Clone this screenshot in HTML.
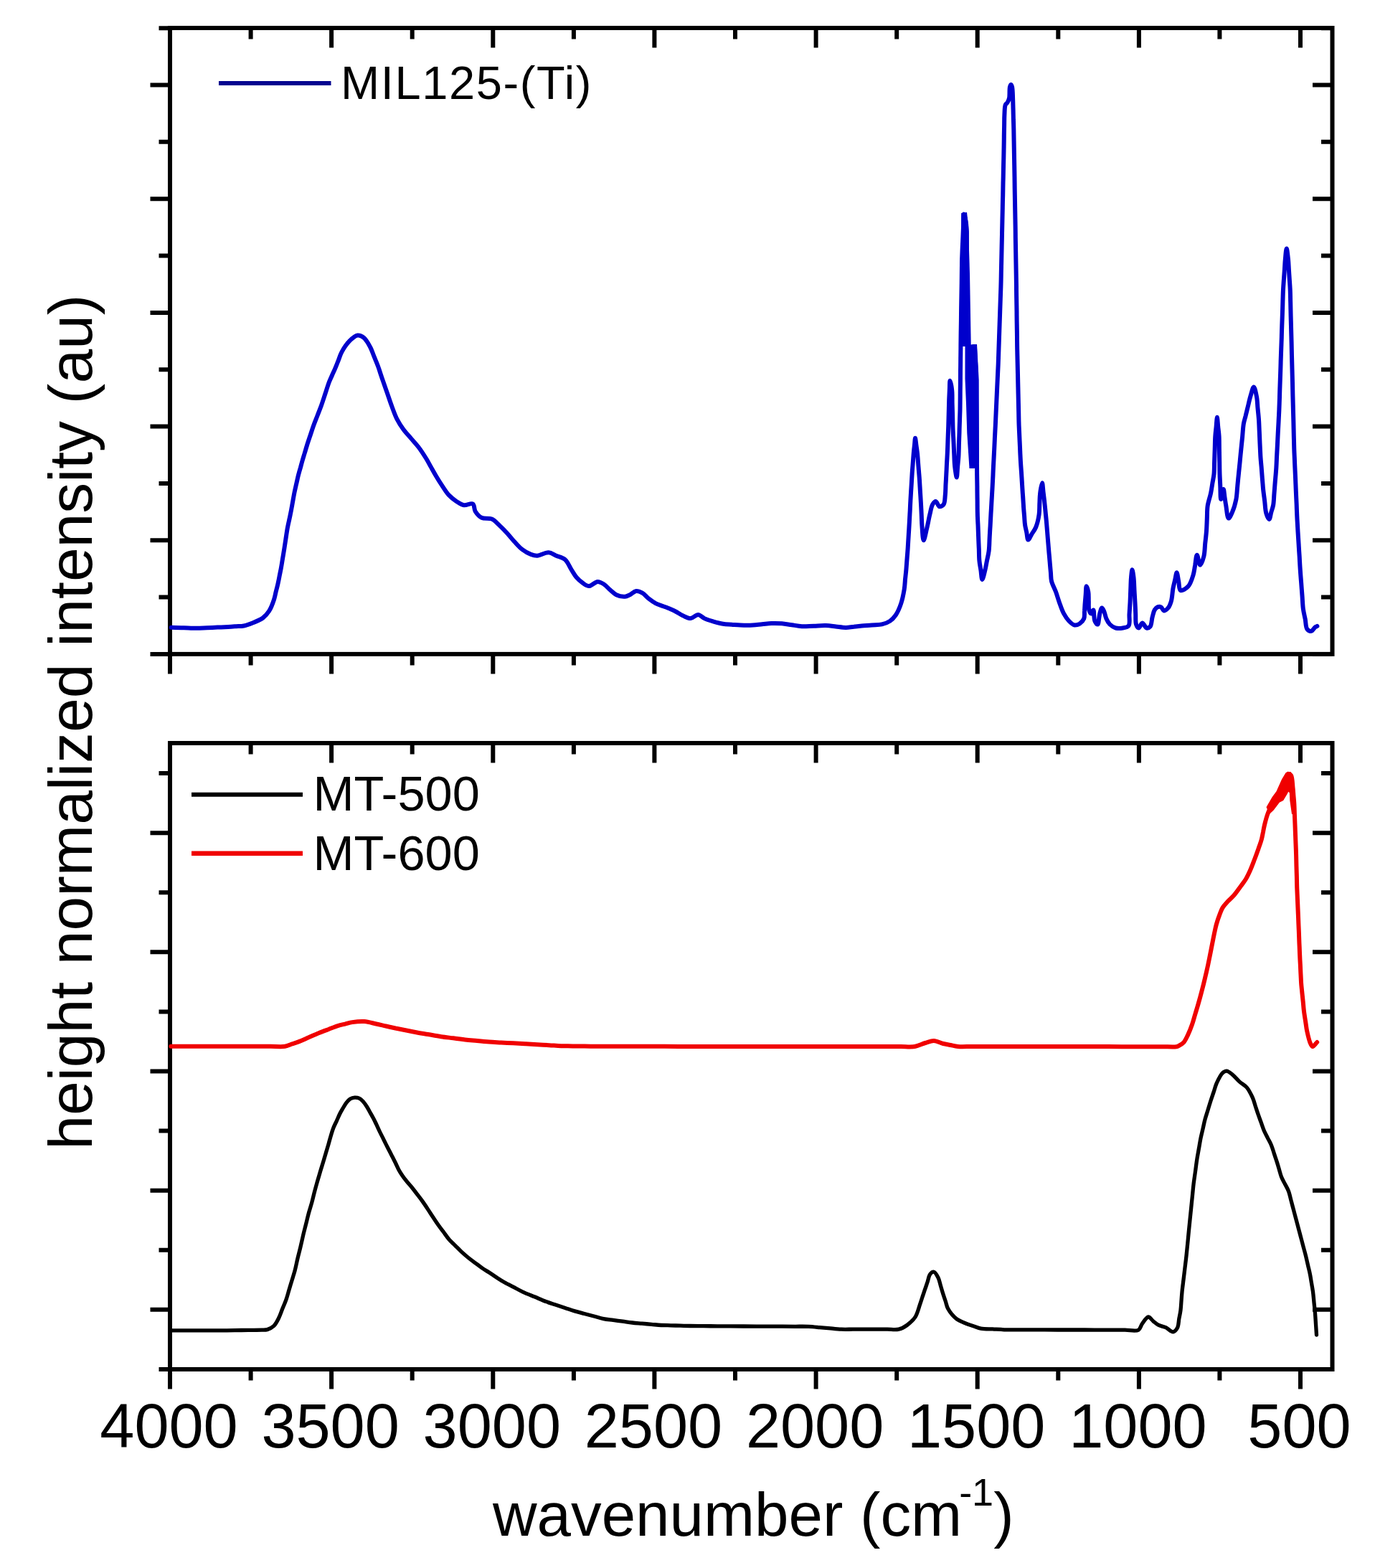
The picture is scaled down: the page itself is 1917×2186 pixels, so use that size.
<!DOCTYPE html>
<html><head><meta charset="utf-8"><title>FTIR spectra</title>
<style>html,body{margin:0;padding:0;background:#fff;}svg{display:block;}</style>
</head><body>
<svg width="1917" height="2186" viewBox="0 0 1917 2186"><rect x="237.0" y="39.0" width="1620.5" height="872.9" fill="none" stroke="#000" stroke-width="6"/>
<path d="M237.0,911.9v27.5M237.0,39.0v27.5M349.6,911.9v15.5M349.6,39.0v15.5M462.1,911.9v27.5M462.1,39.0v27.5M574.7,911.9v15.5M574.7,39.0v15.5M687.3,911.9v27.5M687.3,39.0v27.5M799.9,911.9v15.5M799.9,39.0v15.5M912.4,911.9v27.5M912.4,39.0v27.5M1025.0,911.9v15.5M1025.0,39.0v15.5M1137.6,911.9v27.5M1137.6,39.0v27.5M1250.2,911.9v15.5M1250.2,39.0v15.5M1362.7,911.9v27.5M1362.7,39.0v27.5M1475.3,911.9v15.5M1475.3,39.0v15.5M1587.9,911.9v27.5M1587.9,39.0v27.5M1700.4,911.9v15.5M1700.4,39.0v15.5M1813.0,911.9v27.5M1813.0,39.0v27.5M237.0,911.9h-27.5M1857.5,911.9h-27.5M237.0,832.6h-15.5M1857.5,832.6h-15.5M237.0,753.2h-27.5M1857.5,753.2h-27.5M237.0,673.9h-15.5M1857.5,673.9h-15.5M237.0,594.5h-27.5M1857.5,594.5h-27.5M237.0,515.2h-15.5M1857.5,515.2h-15.5M237.0,435.9h-27.5M1857.5,435.9h-27.5M237.0,356.5h-15.5M1857.5,356.5h-15.5M237.0,277.2h-27.5M1857.5,277.2h-27.5M237.0,197.8h-15.5M1857.5,197.8h-15.5M237.0,118.5h-27.5M1857.5,118.5h-27.5M237.0,39.2h-15.5M1857.5,39.2h-15.5" stroke="#000" stroke-width="6" fill="none"/>
<rect x="237.0" y="1036.0" width="1620.5" height="873.0" fill="none" stroke="#000" stroke-width="6"/>
<path d="M237.0,1909.0v27.5M237.0,1036.0v27.5M349.6,1909.0v15.5M349.6,1036.0v15.5M462.1,1909.0v27.5M462.1,1036.0v27.5M574.7,1909.0v15.5M574.7,1036.0v15.5M687.3,1909.0v27.5M687.3,1036.0v27.5M799.9,1909.0v15.5M799.9,1036.0v15.5M912.4,1909.0v27.5M912.4,1036.0v27.5M1025.0,1909.0v15.5M1025.0,1036.0v15.5M1137.6,1909.0v27.5M1137.6,1036.0v27.5M1250.2,1909.0v15.5M1250.2,1036.0v15.5M1362.7,1909.0v27.5M1362.7,1036.0v27.5M1475.3,1909.0v15.5M1475.3,1036.0v15.5M1587.9,1909.0v27.5M1587.9,1036.0v27.5M1700.4,1909.0v15.5M1700.4,1036.0v15.5M1813.0,1909.0v27.5M1813.0,1036.0v27.5M237.0,1908.9h-15.5M1857.5,1908.9h-15.5M237.0,1825.8h-27.5M1857.5,1825.8h-27.5M237.0,1742.7h-15.5M1857.5,1742.7h-15.5M237.0,1659.7h-27.5M1857.5,1659.7h-27.5M237.0,1576.6h-15.5M1857.5,1576.6h-15.5M237.0,1493.5h-27.5M1857.5,1493.5h-27.5M237.0,1410.4h-15.5M1857.5,1410.4h-15.5M237.0,1327.3h-27.5M1857.5,1327.3h-27.5M237.0,1244.3h-15.5M1857.5,1244.3h-15.5M237.0,1161.2h-27.5M1857.5,1161.2h-27.5M237.0,1078.1h-15.5M1857.5,1078.1h-15.5" stroke="#000" stroke-width="6" fill="none"/>
<path d="M238.8,874.7C244.7,874.9 250.5,875.1 256.4,875.2C262.3,875.4 268.4,875.8 274.0,875.8C279.1,875.8 283.8,875.4 288.7,875.2C293.6,875.0 298.4,874.8 303.3,874.6C308.2,874.4 313.5,874.2 318.0,874.0C321.9,873.8 325.3,873.5 329.0,873.2C332.7,873.0 336.2,873.3 340.0,872.5C344.3,871.6 348.9,869.8 353.3,868.0C357.8,866.2 362.8,864.3 366.5,861.5C370.0,858.8 372.8,855.5 375.3,851.6C378.1,847.2 380.3,841.0 381.9,836.2C383.2,832.3 383.7,828.9 384.6,825.2C385.6,821.5 386.6,817.9 387.4,814.2C388.2,810.5 388.9,806.9 389.6,803.2C390.3,799.5 391.1,796.0 391.8,792.2C392.6,788.0 393.3,783.4 394.0,779.0C394.7,774.6 395.5,770.3 396.2,765.8C396.9,761.1 397.7,756.3 398.4,751.5C399.1,746.7 399.8,741.9 400.6,737.2C401.4,732.7 402.4,728.4 403.4,724.0C404.3,719.5 405.3,715.0 406.1,710.7C406.9,706.6 407.6,702.6 408.3,698.6C409.0,694.6 409.7,690.5 410.5,686.5C411.3,682.5 412.3,678.4 413.2,674.4C414.2,670.4 415.0,666.1 416.0,662.3C416.9,658.8 417.8,655.7 418.8,652.4C419.7,649.1 420.5,645.9 421.5,642.5C422.5,638.9 423.7,635.2 424.8,631.5C425.9,627.8 426.9,624.3 428.1,620.5C429.4,616.3 431.0,611.7 432.5,607.2C434.0,602.8 435.3,598.5 436.9,594.0C438.6,589.3 440.6,584.5 442.4,579.8C444.2,575.0 446.1,570.4 447.9,565.5C449.8,560.2 451.6,554.5 453.4,549.0C455.2,543.5 457.1,537.3 458.9,532.5C460.4,528.7 461.8,525.9 463.3,522.5C464.8,519.2 466.3,516.0 467.7,512.6C469.2,509.0 470.6,505.3 472.1,501.6C473.6,497.9 474.4,494.4 476.5,490.6C479.2,485.7 483.5,479.2 487.5,475.2C490.9,471.8 494.9,468.0 498.5,467.5C501.5,467.1 504.7,468.7 507.3,470.8C510.7,473.5 513.8,479.5 516.2,484.0C518.5,488.3 519.8,492.8 521.6,497.2C523.4,501.7 525.4,506.3 527.0,510.5C528.4,514.2 529.4,517.5 530.5,521.0C531.7,524.6 532.7,527.6 534.1,531.6C535.9,536.7 538.2,543.3 540.3,549.2C542.3,555.1 544.2,561.0 546.4,566.8C548.6,572.7 550.7,579.0 553.5,584.4C556.1,589.5 559.1,594.1 562.3,598.5C565.5,602.9 569.3,606.8 572.8,610.9C576.3,615.0 580.0,618.7 583.4,623.2C587.1,628.0 590.9,634.0 594.0,639.0C596.7,643.3 598.7,647.3 601.0,651.4C603.3,655.5 605.5,659.5 608.0,663.7C610.7,668.3 613.9,673.3 616.9,677.8C619.8,682.1 622.4,686.5 625.7,690.1C628.9,693.5 632.6,696.5 636.3,698.9C639.7,701.1 643.1,703.6 646.8,704.2C650.7,704.8 656.6,700.9 659.2,702.5C661.7,704.0 660.8,709.9 662.7,713.0C664.8,716.3 667.9,720.0 671.5,721.8C675.4,723.7 681.5,721.8 685.6,723.6C689.7,725.4 692.8,729.2 696.2,732.4C699.8,735.7 703.3,739.3 706.7,743.0C710.3,746.9 713.7,751.4 717.3,755.3C720.8,759.0 724.0,762.9 727.9,765.9C731.7,768.8 736.3,771.4 740.2,772.9C743.3,774.1 745.7,774.8 749.0,774.7C753.5,774.5 760.2,770.0 764.9,770.3C768.8,770.5 771.8,773.2 775.4,774.7C779.3,776.4 784.3,777.1 787.7,780.0C791.6,783.3 794.0,790.2 796.9,794.6C799.3,798.4 801.1,801.9 803.8,805.0C806.4,808.0 809.5,810.7 812.5,812.8C815.3,814.7 818.0,817.1 821.1,817.1C824.8,817.1 829.5,811.2 833.2,811.0C836.3,810.9 839.2,812.8 841.9,814.5C845.0,816.4 847.6,819.8 850.5,822.3C853.4,824.7 855.9,827.6 859.2,829.2C862.7,830.9 867.9,832.1 871.3,831.8C874.0,831.6 875.8,830.3 878.2,829.2C881.0,827.9 883.9,824.4 886.9,824.0C889.7,823.7 892.8,825.1 895.5,826.6C898.6,828.3 901.1,832.0 904.2,834.4C907.4,836.9 910.7,839.3 914.5,841.3C918.7,843.4 923.9,844.7 928.4,846.5C932.6,848.2 936.5,849.7 940.5,851.7C944.6,853.7 948.6,856.8 952.6,858.6C956.1,860.2 959.6,862.3 963.0,862.1C966.5,861.9 970.1,856.8 973.4,856.9C976.4,857.0 978.8,860.6 982.0,862.1C985.6,863.8 989.9,865.1 994.1,866.4C998.5,867.7 1003.5,869.1 1008.0,869.8C1012.1,870.5 1016.1,870.4 1020.1,870.7C1024.1,871.0 1027.8,871.4 1032.2,871.6C1037.4,871.8 1044.2,871.9 1049.5,871.6C1054.1,871.4 1058.1,870.7 1062.5,870.3C1066.8,869.9 1070.9,869.2 1075.4,869.0C1080.1,868.8 1085.2,868.9 1090.0,869.3C1094.7,869.7 1099.3,870.6 1104.0,871.2C1108.6,871.9 1113.0,872.9 1117.9,873.2C1123.2,873.5 1129.1,872.8 1134.7,872.7C1140.2,872.5 1146.1,871.9 1151.4,872.1C1156.3,872.3 1160.7,873.0 1165.3,873.5C1170.0,874.0 1174.9,874.9 1179.3,874.9C1183.2,874.9 1186.7,874.1 1190.4,873.8C1194.2,873.4 1197.7,873.0 1201.6,872.6C1206.0,872.2 1210.9,871.9 1215.5,871.5C1220.2,871.1 1225.2,871.4 1229.5,870.4C1233.5,869.5 1237.5,868.1 1240.7,865.9C1243.9,863.8 1246.4,861.0 1248.8,857.5C1251.7,853.2 1254.3,847.1 1256.2,841.4C1258.2,835.4 1259.6,828.3 1260.6,822.3C1261.5,817.1 1261.6,812.5 1262.0,807.6C1262.5,802.7 1263.1,797.8 1263.5,792.9C1263.9,788.0 1264.2,783.1 1264.6,778.2C1265.0,773.4 1265.4,768.8 1265.7,763.6C1266.1,757.8 1266.4,751.3 1266.8,745.2C1267.2,739.1 1267.6,732.6 1267.9,726.8C1268.2,721.6 1268.4,717.0 1268.7,712.1C1268.9,707.3 1269.1,702.7 1269.4,697.5C1269.7,691.7 1270.1,685.3 1270.5,679.1C1270.9,673.0 1271.2,666.6 1271.6,660.8C1271.9,655.6 1272.3,651.0 1272.7,646.1C1273.1,641.2 1273.4,635.9 1273.8,631.4C1274.1,627.7 1274.5,624.5 1274.9,621.1C1275.3,617.7 1275.6,610.8 1276.0,610.8C1276.4,610.8 1277.0,617.7 1277.5,621.1C1277.9,624.5 1278.5,627.5 1278.9,631.4C1279.5,636.6 1279.9,643.6 1280.4,649.8C1280.9,655.9 1281.5,662.0 1281.9,668.1C1282.3,674.2 1282.6,680.3 1283.0,686.5C1283.4,692.6 1283.8,699.0 1284.1,704.8C1284.4,710.0 1284.6,714.6 1284.8,719.5C1285.0,724.4 1285.1,729.0 1285.5,734.2C1286.0,740.2 1286.5,753.2 1287.7,753.3C1288.8,753.4 1290.9,741.9 1292.1,737.1C1293.0,733.3 1293.6,730.3 1294.3,726.9C1295.0,723.4 1295.6,720.2 1296.5,716.6C1297.5,712.4 1298.4,706.4 1300.2,703.3C1301.4,701.2 1303.1,698.8 1304.6,698.9C1306.4,699.1 1307.8,705.8 1309.8,706.3C1311.5,706.7 1314.3,705.2 1315.6,703.3C1317.5,700.6 1317.3,694.6 1317.8,690.1C1318.3,685.4 1318.3,680.3 1318.5,675.5C1318.8,670.6 1319.1,665.7 1319.3,660.8C1319.6,655.9 1319.8,651.0 1320.0,646.1C1320.3,641.2 1320.6,636.6 1320.8,631.4C1321.1,625.6 1321.3,619.2 1321.5,613.0C1321.7,606.9 1322.0,600.9 1322.2,594.7C1322.4,588.5 1322.5,582.2 1322.7,576.0C1322.9,569.7 1323.0,562.9 1323.2,557.2C1323.4,552.4 1323.6,548.4 1323.8,544.0C1324.1,539.6 1323.9,530.8 1324.5,530.8C1325.1,530.8 1326.7,539.3 1327.2,544.0C1327.8,549.4 1327.5,555.7 1327.6,561.6C1327.8,567.5 1327.9,573.3 1328.1,579.2C1328.2,585.1 1328.3,590.9 1328.5,596.8C1328.7,602.7 1329.1,608.5 1329.4,614.4C1329.7,620.3 1329.9,626.1 1330.2,632.0C1330.5,637.9 1330.5,643.9 1331.1,649.6C1331.7,655.1 1333.1,665.5 1333.8,665.5C1334.4,665.5 1334.7,655.8 1335.1,651.0C1335.5,646.1 1336.1,641.4 1336.4,636.4C1336.7,631.1 1336.8,625.4 1336.9,619.9C1337.1,614.4 1337.3,608.9 1337.5,603.4C1337.6,597.9 1337.8,592.4 1338.0,586.9C1338.1,581.4 1338.4,576.0 1338.5,570.4C1338.6,564.6 1338.6,558.7 1338.7,552.8C1338.7,546.9 1338.8,541.1 1338.9,535.2C1338.9,529.3 1339.0,523.5 1339.0,517.6C1339.1,511.7 1339.2,505.9 1339.2,500.0C1339.3,494.1 1339.4,488.3 1339.4,482.4C1339.5,476.5 1339.5,470.7 1339.6,464.8C1339.7,458.9 1339.8,453.1 1339.9,447.2C1340.0,441.3 1340.0,435.5 1340.1,429.6C1340.2,423.7 1340.3,417.9 1340.4,412.0C1340.5,406.1 1340.6,400.3 1340.7,394.4C1340.8,388.5 1340.8,382.7 1340.9,376.8C1341.0,370.9 1341.0,364.8 1341.2,359.2C1341.4,354.0 1341.6,349.1 1341.8,344.0C1342.1,339.0 1342.3,333.9 1342.5,328.9C1342.7,323.8 1342.9,318.7 1343.2,313.7C1343.4,308.6 1343.1,298.6 1343.8,298.5C1344.4,298.4 1346.4,306.9 1347.0,311.7C1347.8,317.3 1347.4,324.0 1347.5,330.2C1347.7,336.3 1347.9,342.5 1348.0,348.6C1348.2,354.8 1348.4,361.0 1348.6,367.1C1348.7,373.3 1349.0,379.5 1349.1,385.6C1349.2,391.5 1349.3,397.3 1349.4,403.2C1349.5,409.1 1349.6,414.9 1349.7,420.8C1349.8,426.7 1349.9,432.5 1350.0,438.4C1350.1,444.3 1350.2,450.1 1350.3,456.0C1350.4,461.9 1350.5,467.7 1350.6,473.6C1350.7,479.5 1350.8,485.3 1350.9,491.2C1351.0,497.1 1351.2,502.9 1351.3,508.8C1351.5,514.7 1351.6,520.5 1351.8,526.4C1351.9,532.3 1352.1,538.2 1352.2,544.0C1352.3,549.6 1352.5,555.2 1352.7,560.7C1352.8,566.3 1353.0,571.9 1353.1,577.5C1353.3,583.0 1353.4,588.6 1353.6,594.2C1353.7,599.8 1353.9,605.4 1354.0,610.9C1354.2,616.5 1354.3,622.1 1354.5,627.7C1354.6,633.2 1354.8,644.4 1354.9,644.4C1355.0,644.4 1355.1,633.2 1355.2,627.7C1355.4,622.1 1355.5,616.5 1355.6,610.9C1355.7,605.4 1355.8,599.8 1356.0,594.2C1356.1,588.6 1356.2,583.0 1356.3,577.5C1356.4,571.9 1356.5,566.3 1356.7,560.7C1356.8,555.2 1356.9,549.4 1357.0,544.0C1357.1,538.8 1357.3,533.9 1357.5,528.8C1357.6,523.8 1357.8,518.7 1357.9,513.6C1358.0,508.6 1358.2,503.5 1358.3,498.5C1358.5,493.4 1358.6,483.3 1358.8,483.3C1359.0,483.3 1359.4,494.7 1359.8,500.5C1360.1,506.2 1360.5,511.8 1360.7,517.6C1360.9,523.4 1360.8,529.3 1360.9,535.2C1360.9,541.1 1361.0,546.9 1361.0,552.8C1361.1,558.7 1361.1,564.5 1361.2,570.4C1361.3,576.3 1361.3,582.1 1361.4,588.0C1361.4,593.9 1361.5,599.7 1361.5,605.6C1361.6,611.5 1361.6,617.3 1361.7,623.2C1361.8,629.3 1361.8,635.5 1361.9,641.7C1362.0,647.8 1362.1,654.0 1362.1,660.2C1362.2,666.3 1362.3,672.5 1362.4,678.6C1362.4,684.8 1362.5,691.0 1362.6,697.1C1362.7,703.3 1362.6,709.6 1362.8,715.6C1362.9,721.3 1363.2,726.6 1363.5,732.1C1363.7,737.6 1363.9,743.1 1364.1,748.6C1364.3,754.1 1364.5,759.6 1364.8,765.1C1365.0,770.6 1364.9,776.4 1365.4,781.6C1365.8,786.3 1366.7,790.4 1367.4,794.8C1368.1,799.2 1368.4,807.9 1369.4,808.0C1370.4,808.1 1372.3,799.2 1373.4,794.8C1374.5,790.4 1375.1,786.0 1376.0,781.6C1376.9,777.2 1378.0,773.1 1378.6,768.4C1379.3,763.0 1379.3,756.7 1379.6,750.9C1379.9,745.1 1380.2,739.3 1380.6,733.4C1380.9,727.6 1381.2,721.8 1381.5,716.0C1381.9,710.1 1382.2,704.3 1382.5,698.5C1382.8,692.7 1383.2,686.8 1383.5,681.0C1383.8,675.1 1384.1,669.3 1384.4,663.4C1384.6,657.5 1384.9,651.7 1385.2,645.8C1385.5,639.9 1385.8,634.1 1386.1,628.2C1386.4,622.3 1386.7,616.5 1386.9,610.6C1387.2,604.7 1387.5,598.9 1387.8,593.0C1388.1,587.1 1388.3,581.3 1388.6,575.4C1388.9,569.5 1389.1,563.7 1389.4,557.8C1389.7,551.9 1389.9,546.1 1390.2,540.2C1390.5,534.3 1390.7,528.5 1391.0,522.6C1391.3,516.7 1391.6,510.9 1391.8,505.0C1392.0,499.1 1392.2,493.3 1392.4,487.4C1392.6,481.5 1392.8,475.6 1393.0,469.8C1393.2,463.9 1393.4,458.0 1393.6,452.1C1393.8,446.3 1394.0,440.4 1394.2,434.5C1394.4,428.7 1394.6,422.8 1394.8,416.9C1395.0,411.0 1395.2,405.2 1395.4,399.3C1395.6,393.3 1395.7,387.2 1395.8,381.1C1395.9,375.0 1396.1,368.9 1396.2,362.9C1396.3,356.8 1396.5,350.7 1396.6,344.6C1396.7,338.6 1396.9,332.5 1397.0,326.4C1397.1,320.4 1397.3,314.3 1397.4,308.2C1397.5,302.1 1397.7,296.0 1397.8,290.0C1397.9,284.1 1398.0,278.3 1398.2,272.5C1398.3,266.7 1398.4,260.8 1398.5,255.0C1398.7,249.2 1398.8,243.3 1398.9,237.5C1399.0,231.7 1399.2,225.6 1399.3,220.0C1399.4,214.8 1399.5,210.0 1399.6,205.0C1399.7,200.0 1399.8,195.0 1399.8,190.0C1399.9,185.0 1400.0,180.0 1400.1,175.0C1400.2,170.0 1400.1,164.9 1400.4,160.0C1400.7,155.2 1400.5,148.8 1401.8,146.0C1402.5,144.5 1403.7,144.3 1404.5,143.0C1405.5,141.4 1406.4,139.5 1407.0,137.0C1407.9,133.0 1407.1,124.2 1408.0,121.0C1408.4,119.5 1409.0,118.0 1409.5,118.0C1410.0,118.0 1410.6,119.5 1411.0,121.0C1412.0,124.6 1411.9,134.2 1412.2,140.0C1412.4,144.8 1412.4,148.9 1412.6,153.3C1412.7,157.8 1412.8,162.2 1412.9,166.7C1413.1,171.1 1413.2,175.3 1413.3,180.0C1413.4,185.2 1413.5,191.1 1413.6,196.7C1413.7,202.2 1413.8,207.8 1413.9,213.3C1414.0,218.9 1414.1,224.4 1414.2,230.0C1414.3,235.6 1414.4,241.1 1414.5,246.7C1414.6,252.2 1414.6,257.8 1414.7,263.3C1414.8,268.9 1414.9,274.4 1415.0,280.0C1415.1,285.6 1415.2,291.3 1415.3,296.9C1415.4,302.6 1415.5,308.2 1415.6,313.9C1415.7,319.6 1415.8,325.2 1415.8,330.9C1415.9,336.5 1416.0,342.1 1416.1,347.8C1416.2,353.4 1416.3,359.1 1416.4,364.8C1416.5,370.4 1416.6,376.0 1416.7,381.7C1416.8,387.5 1416.9,393.4 1417.0,399.3C1417.0,405.2 1417.1,411.0 1417.2,416.9C1417.3,422.8 1417.4,428.6 1417.5,434.5C1417.5,440.4 1417.6,446.2 1417.7,452.1C1417.8,458.0 1417.9,463.8 1418.0,469.7C1418.0,475.6 1418.1,481.4 1418.2,487.3C1418.3,493.2 1418.5,499.0 1418.6,504.9C1418.7,510.8 1418.9,516.7 1419.0,522.5C1419.1,528.4 1419.3,534.3 1419.4,540.1C1419.5,546.0 1419.7,551.9 1419.8,557.8C1419.9,563.6 1420.1,569.5 1420.2,575.4C1420.3,581.3 1420.4,587.3 1420.6,593.0C1420.8,598.3 1421.1,603.2 1421.3,608.4C1421.5,613.5 1421.8,618.6 1422.0,623.7C1422.2,628.9 1422.4,633.7 1422.7,639.1C1423.0,645.2 1423.5,652.1 1424.0,658.7C1424.4,665.2 1424.8,672.1 1425.2,678.2C1425.5,683.4 1425.8,688.0 1426.2,692.9C1426.5,697.8 1426.8,702.9 1427.1,707.6C1427.4,711.9 1427.8,715.7 1428.1,719.8C1428.4,723.9 1428.5,728.1 1429.1,732.0C1429.6,735.6 1430.6,738.9 1431.3,742.3C1432.0,745.7 1432.2,752.4 1433.5,752.6C1434.7,752.8 1436.7,747.5 1438.4,744.7C1440.3,741.6 1442.6,738.8 1444.2,735.0C1446.2,730.1 1447.8,723.0 1448.6,717.4C1449.4,712.3 1449.1,707.6 1449.3,702.7C1449.6,697.8 1449.5,692.9 1450.1,688.0C1450.7,683.1 1452.3,673.3 1453.0,673.3C1453.7,673.3 1454.0,681.5 1454.5,685.5C1455.0,689.6 1455.5,693.5 1456.0,697.8C1456.5,702.5 1457.0,707.6 1457.5,712.5C1457.9,717.3 1458.5,722.2 1458.9,727.1C1459.3,732.0 1459.7,736.9 1460.1,741.8C1460.5,746.7 1460.9,751.6 1461.3,756.5C1461.7,761.4 1462.1,766.3 1462.5,771.1C1463.0,776.0 1463.4,781.1 1463.8,785.8C1464.2,790.1 1464.5,793.9 1464.9,798.0C1465.3,802.1 1465.0,806.0 1466.0,810.2C1467.2,815.0 1470.2,820.2 1472.1,825.3C1473.9,830.3 1475.3,835.4 1477.1,840.4C1478.9,845.4 1480.7,851.0 1483.1,855.4C1485.2,859.2 1487.4,862.7 1490.1,865.5C1492.5,868.0 1495.5,871.0 1498.2,871.5C1500.5,871.9 1503.1,870.8 1505.2,869.5C1507.5,868.0 1510.0,865.3 1511.2,862.5C1512.5,859.4 1511.7,855.1 1512.0,851.5C1512.2,847.8 1512.4,844.1 1512.7,840.4C1513.0,836.6 1513.4,832.7 1513.7,828.8C1514.0,825.0 1514.0,817.4 1514.7,817.3C1515.3,817.2 1516.8,822.3 1517.3,825.3C1518.0,829.0 1517.6,833.7 1517.8,837.8C1518.0,842.0 1517.4,847.2 1518.3,850.4C1518.9,852.5 1520.3,855.4 1521.3,855.4C1522.3,855.4 1523.5,850.2 1524.3,850.4C1525.6,850.7 1524.8,862.0 1526.3,865.5C1527.3,867.8 1529.2,870.8 1530.3,870.5C1531.9,870.1 1532.1,859.6 1533.3,855.4C1534.2,852.3 1535.2,847.5 1536.3,847.4C1537.2,847.3 1538.4,850.4 1539.3,852.4C1540.5,855.1 1541.0,859.4 1542.4,862.5C1543.7,865.4 1545.2,868.3 1547.4,870.5C1549.6,872.7 1552.4,874.7 1555.4,875.5C1558.5,876.4 1562.4,876.1 1565.5,875.5C1568.4,875.0 1571.9,874.7 1573.5,872.5C1575.8,869.5 1574.2,861.8 1574.5,856.5C1574.8,851.1 1575.2,845.9 1575.5,840.4C1575.8,834.7 1576.0,828.7 1576.2,822.8C1576.5,816.9 1576.5,810.4 1577.0,805.2C1577.4,801.1 1577.9,794.2 1578.5,794.2C1579.1,794.2 1580.0,801.1 1580.5,805.2C1581.1,810.4 1581.2,816.9 1581.5,822.8C1581.8,828.7 1582.2,834.8 1582.5,840.4C1582.8,845.6 1583.0,850.4 1583.2,855.5C1583.5,860.5 1582.8,867.0 1584.0,870.5C1584.8,872.8 1586.3,875.5 1587.6,875.5C1589.1,875.5 1590.8,868.6 1592.6,868.5C1594.5,868.4 1596.5,875.0 1598.6,875.5C1600.2,875.9 1602.3,875.0 1603.6,873.5C1605.6,871.2 1605.5,864.5 1606.6,860.4C1607.6,856.8 1608.2,852.9 1609.7,850.4C1610.8,848.6 1612.1,847.0 1613.7,846.4C1615.2,845.8 1617.3,845.7 1618.7,846.4C1620.3,847.2 1621.1,851.2 1622.7,851.4C1624.4,851.7 1627.1,849.3 1628.7,847.4C1630.6,845.2 1631.7,841.9 1632.8,838.3C1634.3,833.3 1634.5,825.3 1635.5,820.0C1636.3,815.9 1637.2,812.8 1638.0,809.1C1638.9,805.5 1639.8,798.3 1640.6,798.3C1641.5,798.3 1642.4,806.5 1643.2,810.6C1644.1,814.8 1643.6,821.9 1645.9,823.0C1648.1,824.1 1653.6,820.6 1656.4,817.7C1659.8,814.1 1661.9,807.0 1663.5,801.8C1665.0,797.1 1665.3,792.4 1666.2,787.8C1667.0,783.1 1667.6,773.8 1668.8,773.7C1670.0,773.6 1671.6,787.6 1673.2,787.7C1674.8,787.8 1677.2,780.0 1678.4,775.4C1679.7,770.1 1679.6,763.7 1680.2,757.8C1680.8,751.9 1681.6,746.1 1682.0,740.2C1682.4,734.3 1682.6,728.5 1682.8,722.6C1683.1,716.7 1682.8,710.8 1683.7,705.0C1684.6,699.1 1687.0,692.8 1688.1,687.3C1689.1,682.6 1689.6,678.5 1690.3,674.1C1691.0,669.7 1692.0,665.6 1692.5,660.9C1693.0,655.5 1692.9,649.2 1693.1,643.3C1693.3,637.4 1693.5,631.6 1693.7,625.7C1693.9,619.8 1693.9,613.5 1694.3,608.1C1694.6,603.4 1695.2,599.3 1695.6,594.9C1696.0,590.5 1696.5,581.7 1696.9,581.7C1697.3,581.7 1697.8,590.5 1698.2,594.9C1698.7,599.3 1699.3,603.4 1699.6,608.1C1699.9,613.5 1699.8,619.8 1699.9,625.7C1700.0,631.6 1700.1,637.4 1700.2,643.3C1700.3,649.2 1700.3,655.0 1700.5,660.9C1700.7,666.8 1701.1,672.6 1701.3,678.5C1701.6,684.4 1701.4,696.0 1702.2,696.1C1702.9,696.2 1704.8,682.0 1705.7,682.0C1706.5,682.0 1706.9,689.7 1707.5,693.5C1708.1,697.3 1708.5,700.8 1709.3,705.0C1710.2,710.3 1711.0,722.3 1712.8,722.6C1714.2,722.8 1716.5,717.4 1718.1,713.8C1720.2,709.0 1722.2,702.0 1723.4,696.1C1724.5,690.3 1724.6,684.4 1725.2,678.5C1725.7,672.6 1726.3,666.8 1726.9,660.9C1727.5,655.0 1728.1,649.2 1728.7,643.3C1729.2,637.4 1729.8,631.6 1730.4,625.7C1731.0,619.8 1731.6,614.0 1732.2,608.1C1732.7,602.2 1733.0,595.6 1733.9,590.5C1734.6,586.5 1735.7,583.4 1736.6,579.9C1737.4,576.4 1738.2,573.3 1739.2,569.3C1740.5,564.2 1742.0,557.0 1743.6,551.7C1745.0,547.2 1746.6,539.4 1748.0,539.4C1749.4,539.4 1751.1,548.2 1752.0,553.0C1753.0,558.1 1753.0,563.7 1753.5,569.0C1754.0,574.3 1754.6,579.6 1755.0,585.0C1755.4,590.5 1755.5,596.1 1755.8,601.7C1756.0,607.2 1756.3,612.8 1756.5,618.3C1756.8,623.9 1757.0,629.5 1757.3,635.0C1757.6,640.3 1758.1,645.5 1758.6,650.7C1759.0,655.9 1759.4,661.2 1759.8,666.4C1760.3,671.6 1760.6,676.8 1761.1,682.1C1761.7,687.6 1762.5,693.2 1763.2,698.8C1763.9,704.4 1763.9,711.0 1765.3,715.5C1766.3,718.9 1768.3,724.0 1769.5,723.9C1770.7,723.8 1771.4,717.4 1772.3,714.1C1773.2,710.9 1774.4,708.1 1775.1,704.4C1776.0,699.6 1776.0,693.3 1776.5,687.7C1776.9,682.1 1777.4,676.6 1777.8,671.0C1778.3,665.4 1778.8,659.9 1779.2,654.3C1779.6,648.7 1779.8,643.2 1780.0,637.6C1780.3,632.0 1780.6,626.4 1780.9,620.9C1781.2,615.3 1781.4,609.7 1781.7,604.1C1782.0,598.6 1782.3,593.0 1782.6,587.4C1782.8,581.8 1783.2,576.3 1783.4,570.7C1783.6,565.1 1783.8,559.6 1784.0,554.0C1784.1,548.4 1784.3,542.8 1784.5,537.3C1784.7,531.7 1784.9,526.1 1785.1,520.5C1785.3,515.0 1785.5,509.4 1785.6,503.8C1785.8,498.2 1786.0,492.7 1786.2,487.1C1786.4,481.5 1786.6,476.0 1786.8,470.4C1786.9,464.8 1787.1,459.3 1787.3,453.7C1787.5,448.1 1787.7,442.6 1787.9,437.0C1788.1,431.4 1788.3,425.9 1788.4,420.3C1788.6,414.7 1788.7,408.9 1789.0,403.6C1789.2,398.7 1789.6,394.3 1789.9,389.7C1790.2,385.0 1790.6,380.4 1790.9,375.7C1791.2,371.1 1791.3,366.5 1791.8,361.8C1792.3,356.8 1793.0,346.5 1793.7,346.5C1794.4,346.5 1795.5,356.8 1796.0,361.8C1796.5,366.5 1796.6,371.1 1796.9,375.7C1797.2,380.4 1797.5,385.0 1797.8,389.7C1798.1,394.3 1798.5,398.6 1798.7,403.6C1799.0,409.3 1799.0,416.0 1799.2,422.2C1799.3,428.4 1799.5,434.5 1799.6,440.7C1799.8,446.9 1799.9,453.1 1800.1,459.3C1800.3,465.5 1800.4,471.7 1800.6,477.9C1800.7,484.1 1800.9,490.2 1801.0,496.4C1801.2,502.6 1801.3,508.8 1801.5,515.0C1801.7,521.2 1801.8,527.4 1802.0,533.6C1802.1,539.8 1802.3,545.9 1802.4,552.1C1802.6,558.3 1802.7,564.5 1802.9,570.7C1803.1,576.9 1803.2,583.1 1803.4,589.3C1803.5,595.5 1803.7,601.6 1803.8,607.8C1804.0,614.0 1804.1,620.1 1804.3,626.4C1804.5,632.8 1804.9,639.4 1805.1,645.9C1805.4,652.4 1805.7,658.9 1806.0,665.4C1806.3,671.9 1806.5,678.4 1806.8,684.9C1807.1,691.4 1807.4,697.9 1807.7,704.4C1807.9,710.9 1808.2,717.6 1808.5,723.9C1808.8,729.9 1809.2,735.5 1809.5,741.3C1809.9,747.1 1810.2,752.9 1810.6,758.7C1810.9,764.5 1811.3,770.3 1811.7,776.1C1812.0,781.9 1812.3,787.6 1812.7,793.5C1813.1,799.6 1813.6,805.9 1814.1,812.1C1814.6,818.3 1815.0,824.4 1815.5,830.6C1816.0,836.8 1816.1,843.5 1816.9,849.2C1817.6,854.2 1818.7,858.5 1819.7,863.2C1820.6,867.8 1820.3,874.4 1822.4,877.1C1823.8,878.9 1826.2,880.2 1828.0,879.9C1830.0,879.6 1832.0,875.5 1833.6,874.3C1834.6,873.6 1835.5,873.4 1836.4,872.9" fill="none" stroke="#0000cc" stroke-width="6" stroke-linejoin="round" stroke-linecap="round"/>
<path d="M238.4,1458.8C245.0,1458.8 251.6,1458.8 258.3,1458.8C264.9,1458.8 271.5,1458.8 278.1,1458.8C284.8,1458.8 291.4,1458.8 298.0,1458.8C304.6,1458.8 311.3,1458.8 317.9,1458.8C324.5,1458.8 331.1,1458.8 337.8,1458.8C344.4,1458.8 351.0,1458.8 357.6,1458.8C364.3,1458.8 370.9,1458.8 377.5,1458.8C384.1,1458.8 392.0,1459.7 397.4,1458.8C401.4,1458.1 404.1,1456.5 407.4,1455.3C410.8,1454.2 413.9,1453.3 417.5,1451.9C421.7,1450.3 426.4,1448.0 430.9,1446.1C435.4,1444.1 439.8,1442.0 444.3,1440.2C448.7,1438.4 453.2,1436.8 457.6,1435.2C462.1,1433.5 466.8,1431.4 471.0,1430.1C474.6,1429.0 477.7,1428.4 481.1,1427.6C484.4,1426.8 487.3,1425.7 491.1,1425.1C496.0,1424.4 502.3,1423.7 507.9,1424.1C513.5,1424.5 519.3,1426.4 524.6,1427.5C529.3,1428.5 533.5,1429.5 538.0,1430.5C542.5,1431.5 546.8,1432.5 551.4,1433.5C556.3,1434.5 561.4,1435.5 566.5,1436.5C571.5,1437.5 576.3,1438.5 581.5,1439.5C586.9,1440.5 592.7,1441.4 598.2,1442.3C603.8,1443.3 609.4,1444.4 615.0,1445.2C620.6,1446.0 626.2,1446.6 631.8,1447.3C637.3,1448.1 642.9,1448.9 648.5,1449.5C654.1,1450.1 659.7,1450.5 665.2,1451.0C670.8,1451.6 676.4,1452.2 682.0,1452.6C687.6,1453.0 693.2,1453.2 698.7,1453.5C704.3,1453.8 709.9,1454.0 715.5,1454.3C721.0,1454.6 726.6,1454.9 732.2,1455.2C737.8,1455.5 743.4,1455.9 748.9,1456.2C754.5,1456.5 760.1,1456.9 765.7,1457.2C771.2,1457.5 776.9,1458.0 782.4,1458.2C787.8,1458.4 793.0,1458.3 798.3,1458.4C803.6,1458.5 808.8,1458.5 814.1,1458.6C819.4,1458.7 824.4,1458.8 830.0,1458.8C836.1,1458.8 842.9,1458.8 849.4,1458.8C855.8,1458.8 862.3,1458.8 868.7,1458.8C875.2,1458.8 881.6,1458.8 888.1,1458.8C894.5,1458.8 901.0,1458.8 907.4,1458.8C913.9,1458.8 920.4,1458.8 926.8,1458.8C933.3,1458.8 939.7,1458.8 946.2,1458.9C952.6,1458.9 959.1,1458.9 965.5,1458.9C972.0,1458.9 978.4,1458.9 984.9,1458.9C991.3,1458.9 997.8,1458.9 1004.2,1458.9C1010.7,1458.9 1017.2,1458.9 1023.6,1458.9C1030.1,1458.9 1036.5,1458.9 1043.0,1458.9C1049.4,1458.9 1055.9,1458.9 1062.3,1458.9C1068.8,1458.9 1075.2,1458.9 1081.7,1458.9C1088.1,1458.9 1094.6,1458.9 1101.1,1458.9C1107.5,1458.9 1114.0,1458.9 1120.4,1458.9C1126.9,1458.9 1133.3,1458.9 1139.8,1458.9C1146.2,1458.9 1152.7,1458.9 1159.1,1458.9C1165.6,1459.0 1172.0,1459.0 1178.5,1459.0C1184.9,1459.0 1191.4,1459.0 1197.9,1459.0C1204.3,1459.0 1210.8,1459.0 1217.2,1459.0C1223.7,1459.0 1230.1,1459.0 1236.6,1459.0C1243.0,1459.0 1249.5,1459.0 1255.9,1459.0C1262.4,1459.0 1269.4,1460.0 1275.3,1459.0C1280.6,1458.1 1285.3,1455.4 1290.0,1454.0C1294.2,1452.8 1297.9,1450.9 1302.0,1451.0C1306.3,1451.1 1310.9,1454.0 1315.0,1455.0C1318.6,1455.9 1321.9,1456.3 1325.3,1457.0C1328.7,1457.7 1331.6,1458.6 1335.6,1459.0C1341.0,1459.5 1348.3,1459.0 1354.6,1459.0C1361.0,1459.0 1367.3,1459.0 1373.6,1459.0C1380.0,1459.0 1386.3,1459.0 1392.7,1459.0C1399.0,1459.0 1405.4,1459.0 1411.7,1459.0C1418.0,1459.1 1424.4,1459.1 1430.7,1459.1C1437.1,1459.1 1443.4,1459.1 1449.8,1459.1C1456.1,1459.1 1462.4,1459.1 1468.8,1459.1C1475.1,1459.1 1481.5,1459.1 1487.8,1459.1C1494.1,1459.1 1500.5,1459.1 1506.8,1459.1C1513.2,1459.1 1519.5,1459.1 1525.8,1459.1C1532.2,1459.1 1538.5,1459.1 1544.9,1459.1C1551.2,1459.1 1557.6,1459.1 1563.9,1459.2C1570.2,1459.2 1576.6,1459.2 1582.9,1459.2C1589.3,1459.2 1595.6,1459.2 1602.0,1459.2C1608.3,1459.2 1614.6,1459.2 1621.0,1459.2C1627.3,1459.2 1636.5,1459.7 1640.0,1459.2C1641.4,1459.0 1641.8,1458.9 1642.9,1458.3C1644.9,1457.3 1648.2,1455.5 1650.3,1453.2C1652.7,1450.6 1654.3,1446.7 1656.1,1442.9C1658.2,1438.5 1660.3,1433.2 1662.0,1428.3C1663.7,1423.4 1664.9,1418.5 1666.4,1413.6C1667.9,1408.7 1669.4,1403.9 1670.8,1398.9C1672.3,1393.7 1673.8,1388.3 1675.2,1382.8C1676.7,1377.1 1678.2,1371.2 1679.6,1365.2C1681.1,1359.0 1682.7,1352.1 1684.0,1346.1C1685.1,1340.9 1686.0,1336.3 1687.0,1331.4C1688.0,1326.5 1688.9,1321.6 1689.9,1316.7C1690.9,1311.8 1691.8,1306.8 1692.8,1302.1C1693.8,1297.6 1694.6,1293.3 1695.8,1288.9C1697.0,1284.4 1698.6,1279.7 1700.2,1275.6C1701.6,1271.9 1702.7,1268.5 1704.6,1265.4C1706.6,1262.2 1709.3,1259.5 1711.9,1256.6C1714.6,1253.6 1717.9,1251.1 1720.7,1247.8C1723.8,1244.3 1726.7,1239.8 1729.5,1236.0C1732.1,1232.5 1734.6,1229.4 1736.8,1225.8C1739.0,1222.1 1740.8,1218.2 1742.7,1214.0C1744.8,1209.4 1746.7,1204.3 1748.6,1199.3C1750.6,1194.1 1752.7,1188.3 1754.5,1183.2C1756.1,1178.6 1757.8,1174.1 1758.9,1170.0C1759.8,1166.5 1760.3,1163.3 1761.0,1160.0C1761.6,1156.7 1762.1,1153.8 1763.0,1150.0C1764.2,1145.1 1766.0,1138.1 1768.0,1133.0C1769.7,1128.6 1771.9,1124.7 1774.0,1121.0C1775.9,1117.7 1778.0,1115.2 1780.0,1112.0C1782.3,1108.3 1784.9,1104.0 1787.0,1100.0C1788.9,1096.3 1790.4,1092.6 1792.0,1089.0C1793.5,1085.6 1794.7,1079.6 1796.5,1079.0C1797.6,1078.7 1799.1,1079.7 1800.0,1081.0C1801.9,1083.8 1801.9,1092.9 1802.5,1098.0C1803.0,1102.1 1803.1,1105.3 1803.4,1109.0C1803.7,1112.7 1804.1,1116.0 1804.3,1120.0C1804.6,1124.6 1804.7,1130.0 1804.9,1135.0C1805.1,1140.0 1805.3,1145.1 1805.5,1150.0C1805.7,1154.6 1805.8,1158.9 1806.0,1163.3C1806.2,1167.8 1806.3,1172.2 1806.5,1176.7C1806.7,1181.1 1806.9,1185.3 1807.0,1190.0C1807.2,1195.2 1807.3,1200.9 1807.4,1206.3C1807.6,1211.8 1807.7,1217.2 1807.9,1222.7C1808.0,1228.1 1808.1,1233.8 1808.3,1239.0C1808.5,1243.8 1808.7,1248.2 1808.9,1252.9C1809.1,1257.5 1809.3,1262.1 1809.5,1266.7C1809.7,1271.4 1809.9,1275.8 1810.1,1280.6C1810.3,1285.9 1810.5,1291.7 1810.8,1297.3C1811.0,1302.9 1811.2,1308.4 1811.4,1314.0C1811.7,1319.6 1811.9,1325.4 1812.1,1330.7C1812.3,1335.4 1812.5,1339.6 1812.8,1344.1C1813.0,1348.5 1813.2,1353.0 1813.4,1357.4C1813.7,1361.9 1813.8,1366.3 1814.1,1370.8C1814.4,1375.3 1815.0,1379.7 1815.4,1384.2C1815.9,1388.6 1816.3,1393.1 1816.8,1397.5C1817.2,1402.0 1817.5,1406.5 1818.1,1410.9C1818.7,1415.3 1819.4,1419.6 1820.1,1424.0C1820.8,1428.3 1821.1,1432.3 1822.1,1437.0C1823.3,1442.6 1825.2,1451.3 1827.1,1455.0C1828.1,1456.9 1828.9,1458.9 1830.2,1459.0C1831.8,1459.1 1834.2,1455.0 1836.2,1453.0" fill="none" stroke="#f00000" stroke-width="6" stroke-linejoin="round" stroke-linecap="round"/>
<path d="M237.8,1854.8C243.7,1854.8 249.6,1854.8 255.4,1854.8C261.3,1854.8 267.2,1854.8 273.1,1854.8C278.9,1854.8 284.8,1854.8 290.7,1854.8C296.6,1854.8 302.3,1854.8 308.3,1854.8C314.5,1854.8 320.9,1854.7 327.2,1854.6C333.5,1854.5 339.8,1854.5 346.1,1854.4C352.4,1854.3 360.1,1854.4 365.0,1854.2C368.1,1854.1 370.0,1854.4 372.6,1853.6C375.6,1852.7 379.3,1850.9 381.9,1848.4C384.7,1845.7 386.6,1841.6 388.5,1837.8C390.6,1833.7 392.0,1829.0 393.8,1824.6C395.6,1820.2 397.6,1815.8 399.1,1811.4C400.6,1807.0 401.7,1802.6 403.0,1798.2C404.3,1793.8 405.7,1789.4 407.0,1785.0C408.3,1780.6 409.7,1776.4 411.0,1771.7C412.4,1766.4 413.6,1760.2 414.9,1754.6C416.2,1749.2 417.6,1744.1 418.9,1738.7C420.2,1733.1 421.5,1727.1 422.8,1721.5C424.1,1716.1 425.5,1711.0 426.8,1705.7C428.1,1700.4 429.4,1694.8 430.8,1689.8C432.1,1685.2 433.4,1681.2 434.7,1676.6C436.1,1671.6 437.3,1666.0 438.7,1660.8C440.0,1655.8 441.4,1650.9 442.7,1646.2C444.0,1641.7 445.3,1637.4 446.6,1633.0C447.9,1628.6 449.3,1624.3 450.6,1620.0C451.9,1615.8 453.1,1611.6 454.3,1607.5C455.5,1603.4 456.7,1599.5 457.9,1595.4C459.1,1591.3 460.2,1586.9 461.4,1582.9C462.5,1579.2 463.6,1575.6 465.0,1572.1C466.3,1568.7 468.0,1565.6 469.5,1562.3C471.0,1559.0 472.4,1555.6 473.9,1552.5C475.3,1549.7 476.9,1547.1 478.4,1544.5C479.9,1542.0 481.2,1539.4 482.9,1537.3C484.5,1535.3 486.2,1533.2 488.2,1532.0C490.1,1530.9 492.4,1530.3 494.5,1530.2C496.6,1530.1 498.8,1530.3 500.7,1531.1C502.7,1532.0 504.4,1533.7 506.1,1535.5C508.0,1537.5 509.8,1540.2 511.4,1542.7C513.0,1545.2 514.4,1548.0 515.9,1550.7C517.4,1553.4 518.9,1556.0 520.4,1558.8C521.9,1561.6 523.3,1564.6 524.8,1567.7C526.3,1570.9 527.8,1574.3 529.3,1577.5C530.8,1580.6 532.3,1583.4 533.8,1586.4C535.2,1589.4 536.7,1592.4 538.2,1595.4C539.7,1598.3 541.1,1601.1 542.6,1604.0C544.1,1606.8 545.5,1609.6 547.0,1612.5C548.5,1615.5 550.0,1618.5 551.5,1621.5C553.0,1624.6 554.4,1628.0 556.0,1631.0C557.5,1633.8 559.2,1636.4 561.0,1639.0C562.7,1641.5 564.5,1643.9 566.5,1646.3C568.6,1648.9 570.8,1651.2 573.1,1654.0C575.8,1657.3 579.0,1661.5 581.7,1665.1C584.3,1668.5 586.7,1671.5 589.1,1674.9C591.6,1678.4 594.1,1682.2 596.5,1685.9C599.0,1689.6 601.3,1693.3 603.8,1697.0C606.2,1700.7 608.7,1704.5 611.2,1708.0C613.6,1711.4 616.1,1714.6 618.6,1717.9C621.0,1721.2 623.2,1724.6 625.9,1727.7C628.5,1730.8 631.6,1733.4 634.5,1736.3C637.4,1739.2 640.1,1742.1 643.1,1744.9C646.2,1747.8 649.7,1750.8 653.0,1753.5C656.2,1756.1 659.5,1758.4 662.8,1760.8C666.1,1763.3 669.3,1765.9 672.6,1768.2C675.8,1770.4 679.0,1772.1 682.4,1774.3C686.0,1776.6 689.9,1779.4 693.5,1781.7C696.9,1783.9 699.8,1785.8 703.3,1787.8C707.2,1790.0 711.8,1792.2 716.1,1794.4C720.4,1796.7 724.3,1799.0 728.9,1801.1C733.9,1803.4 739.6,1805.6 745.0,1807.8C750.4,1810.0 755.9,1812.6 761.1,1814.5C765.7,1816.2 770.0,1817.5 774.5,1819.0C779.0,1820.5 783.4,1821.9 787.9,1823.4C792.4,1824.9 796.8,1826.6 801.3,1827.9C805.7,1829.2 810.2,1830.3 814.7,1831.5C819.2,1832.7 823.6,1833.8 828.1,1835.0C832.6,1836.2 837.0,1837.7 841.5,1838.6C845.9,1839.5 850.4,1839.8 854.9,1840.4C859.3,1841.0 863.8,1841.6 868.2,1842.2C872.7,1842.8 877.1,1843.5 881.6,1844.0C886.1,1844.5 890.5,1844.8 895.0,1845.2C899.5,1845.6 903.9,1845.9 908.4,1846.3C912.9,1846.7 917.3,1847.3 921.8,1847.5C926.3,1847.7 930.7,1847.7 935.2,1847.8C939.7,1847.9 944.1,1848.1 948.6,1848.2C953.1,1848.3 957.1,1848.4 962.0,1848.5C967.8,1848.6 974.7,1848.6 981.0,1848.7C987.3,1848.7 993.7,1848.8 1000.0,1848.8C1006.1,1848.8 1012.1,1848.9 1018.2,1848.9C1024.2,1848.9 1030.3,1848.9 1036.4,1849.0C1042.4,1849.0 1048.5,1849.0 1054.6,1849.1C1060.6,1849.1 1066.7,1849.1 1072.7,1849.1C1078.8,1849.2 1084.9,1849.2 1090.9,1849.2C1097.0,1849.3 1103.1,1849.3 1109.1,1849.3C1115.2,1849.3 1121.5,1849.1 1127.3,1849.4C1132.6,1849.6 1137.5,1850.2 1142.5,1850.7C1147.6,1851.1 1152.7,1851.5 1157.8,1851.9C1162.8,1852.4 1167.9,1853.0 1173.0,1853.2C1178.3,1853.4 1183.7,1853.2 1189.0,1853.2C1194.4,1853.2 1199.7,1853.2 1205.0,1853.2C1210.4,1853.2 1215.7,1853.2 1221.1,1853.2C1226.4,1853.2 1231.7,1853.2 1237.1,1853.2C1242.4,1853.2 1248.3,1854.3 1253.1,1853.2C1257.4,1852.2 1260.9,1850.1 1264.5,1847.5C1268.6,1844.6 1273.0,1840.7 1276.0,1836.1C1279.3,1831.0 1280.9,1823.0 1282.8,1817.8C1284.2,1813.9 1285.1,1810.9 1286.2,1807.5C1287.4,1804.1 1288.5,1800.6 1289.7,1797.2C1290.9,1793.8 1292.0,1790.3 1293.2,1786.9C1294.3,1783.5 1294.8,1778.9 1296.6,1776.6C1297.9,1774.9 1299.9,1773.0 1301.6,1773.2C1303.8,1773.5 1306.4,1778.1 1308.0,1781.2C1309.7,1784.5 1310.3,1788.8 1311.5,1792.7C1312.6,1796.5 1313.7,1800.4 1314.9,1804.1C1316.0,1807.6 1317.2,1810.9 1318.3,1814.3C1319.4,1817.8 1319.8,1821.1 1321.7,1824.6C1324.2,1829.1 1328.8,1834.9 1333.2,1838.4C1337.3,1841.6 1342.6,1843.4 1346.9,1845.2C1350.5,1846.7 1353.8,1847.5 1357.2,1848.7C1360.6,1849.8 1363.6,1851.4 1367.5,1852.1C1372.2,1853.0 1378.3,1852.7 1383.8,1852.9C1389.2,1853.2 1394.4,1853.6 1400.0,1853.8C1406.0,1854.0 1412.5,1853.8 1418.7,1853.8C1425.0,1853.9 1431.2,1853.9 1437.4,1853.9C1443.7,1853.9 1449.9,1853.9 1456.2,1853.9C1462.4,1853.9 1468.6,1853.9 1474.9,1854.0C1481.1,1854.0 1487.4,1854.0 1493.6,1854.0C1499.8,1854.0 1506.1,1854.0 1512.3,1854.0C1518.6,1854.1 1524.8,1854.1 1531.0,1854.1C1537.3,1854.1 1543.5,1854.1 1549.8,1854.1C1556.0,1854.1 1562.2,1854.1 1568.5,1854.2C1574.7,1854.2 1583.2,1856.5 1587.2,1854.2C1590.1,1852.5 1590.3,1848.4 1592.4,1845.5C1594.8,1842.3 1598.2,1836.2 1601.0,1836.0C1603.4,1835.9 1605.6,1840.2 1608.0,1842.1C1610.3,1843.9 1612.2,1845.8 1614.9,1847.2C1617.9,1848.8 1621.9,1849.2 1625.3,1850.7C1628.8,1852.3 1632.7,1857.2 1635.6,1856.8C1638.0,1856.5 1640.3,1853.3 1641.7,1850.7C1643.3,1847.5 1643.1,1842.6 1643.8,1838.6C1644.6,1834.6 1645.5,1830.6 1646.0,1826.5C1646.5,1822.3 1646.7,1818.0 1647.0,1813.7C1647.3,1809.4 1647.6,1805.4 1648.0,1800.9C1648.5,1795.7 1649.3,1789.8 1650.0,1784.2C1650.7,1778.6 1651.3,1773.1 1652.0,1767.5C1652.7,1761.9 1653.4,1756.4 1654.0,1750.8C1654.6,1745.2 1655.1,1739.6 1655.7,1734.1C1656.2,1728.5 1656.8,1722.9 1657.3,1717.3C1657.9,1711.8 1658.4,1706.2 1659.0,1700.6C1659.6,1695.0 1660.1,1689.5 1660.7,1683.9C1661.3,1678.3 1661.8,1672.8 1662.4,1667.2C1663.0,1661.6 1663.4,1656.2 1664.1,1650.5C1664.8,1644.6 1665.8,1638.5 1666.6,1632.5C1667.4,1626.4 1668.2,1620.0 1669.1,1614.4C1669.9,1609.4 1670.8,1605.0 1671.6,1600.3C1672.4,1595.7 1673.2,1590.9 1674.1,1586.3C1675.0,1581.9 1676.1,1577.6 1677.1,1573.3C1678.1,1569.0 1678.9,1564.6 1680.1,1560.3C1681.3,1555.9 1682.8,1551.6 1684.1,1547.2C1685.4,1542.9 1686.7,1538.5 1688.1,1534.2C1689.4,1530.1 1690.8,1526.2 1692.2,1522.2C1693.5,1518.1 1694.4,1514.2 1696.2,1510.1C1698.3,1505.5 1701.3,1498.9 1704.2,1496.1C1706.1,1494.3 1708.1,1493.0 1710.2,1493.1C1712.7,1493.2 1715.5,1496.0 1718.2,1498.1C1721.5,1500.7 1724.8,1505.0 1728.2,1508.1C1731.5,1511.0 1735.4,1512.7 1738.3,1516.1C1741.6,1519.9 1744.2,1525.6 1746.3,1530.2C1748.1,1534.3 1749.0,1538.2 1750.3,1542.2C1751.6,1546.2 1752.9,1550.3 1754.3,1554.2C1755.6,1558.0 1757.0,1561.6 1758.3,1565.2C1759.6,1568.9 1760.8,1572.7 1762.3,1576.3C1763.8,1579.8 1765.7,1583.0 1767.3,1586.3C1769.0,1589.7 1770.9,1592.8 1772.4,1596.4C1774.0,1600.2 1775.1,1604.4 1776.4,1608.4C1777.7,1612.4 1779.2,1616.6 1780.4,1620.4C1781.5,1623.9 1782.4,1627.1 1783.4,1630.5C1784.4,1633.8 1785.1,1637.2 1786.4,1640.5C1787.7,1643.9 1789.7,1647.2 1791.4,1650.5C1793.1,1653.8 1795.0,1656.7 1796.4,1660.5C1798.1,1664.9 1799.1,1670.5 1800.5,1675.5C1801.8,1680.6 1803.2,1685.6 1804.5,1690.6C1805.8,1695.6 1807.2,1700.6 1808.5,1705.7C1809.8,1710.7 1811.2,1715.7 1812.5,1720.7C1813.8,1725.7 1815.2,1730.7 1816.5,1735.8C1817.8,1740.8 1819.3,1746.0 1820.5,1750.8C1821.6,1755.3 1822.5,1759.5 1823.5,1763.8C1824.5,1768.2 1825.7,1772.6 1826.5,1776.9C1827.3,1781.0 1827.8,1784.9 1828.5,1788.9C1829.2,1792.9 1829.9,1796.7 1830.5,1800.9C1831.1,1805.6 1831.5,1810.9 1832.0,1816.0C1832.5,1821.0 1833.1,1826.0 1833.5,1831.0C1833.9,1836.0 1834.2,1841.0 1834.5,1846.0C1834.8,1851.1 1835.2,1856.1 1835.5,1861.1" fill="none" stroke="#000" stroke-width="5.3" stroke-linejoin="round" stroke-linecap="round"/>
<polygon points="1765.5,1125.2 1773.6,1111.3 1779.5,1103.2 1787,1086.5 1792.4,1077.4 1795.1,1075.8 1799.9,1076.3 1802.6,1091.9 1805.8,1108 1806.8,1135 1801,1135 1798.3,1116.1 1797.8,1105.3 1796.2,1103.7 1794.6,1107 1789.2,1116.1 1783.8,1118.8 1775.7,1129.5 1769.8,1135" fill="#f00000"/>
<polygon points="1340.2,297 1348,296 1350.9,323 1351.2,483 1342.8,483 1337.5,483 1338.5,446 1340.2,390" fill="#0000cc"/>
<polygon points="1345.5,481 1351,481 1356.5,480 1362,480 1364.7,530 1365,645 1358.5,653 1351.5,653 1348.3,604 1347,563 1345.5,528" fill="#0000cc"/>
<line x1="305" y1="116" x2="461.5" y2="116" stroke="#04048f" stroke-width="5.8"/>
<line x1="267" y1="1107.7" x2="422" y2="1107.7" stroke="#000" stroke-width="6"/>
<line x1="267" y1="1189.8" x2="422" y2="1189.8" stroke="#f00000" stroke-width="6.5"/>
<text x="475" y="137.85" font-size="65" textLength="349.5" lengthAdjust="spacing" font-family="'Liberation Sans', Arial, sans-serif">MIL125-(Ti)</text>
<text x="436.5" y="1129.5" font-size="68.5" font-family="'Liberation Sans', Arial, sans-serif">MT-500</text>
<text x="436.5" y="1212.6" font-size="68.5" font-family="'Liberation Sans', Arial, sans-serif">MT-600</text>
<text x="235.5" y="2018" font-size="86.5" text-anchor="middle" font-family="'Liberation Sans', Arial, sans-serif">4000</text>
<text x="460.6" y="2018" font-size="86.5" text-anchor="middle" font-family="'Liberation Sans', Arial, sans-serif">3500</text>
<text x="685.8" y="2018" font-size="86.5" text-anchor="middle" font-family="'Liberation Sans', Arial, sans-serif">3000</text>
<text x="910.9" y="2018" font-size="86.5" text-anchor="middle" font-family="'Liberation Sans', Arial, sans-serif">2500</text>
<text x="1136.1" y="2018" font-size="86.5" text-anchor="middle" font-family="'Liberation Sans', Arial, sans-serif">2000</text>
<text x="1361.2" y="2018" font-size="86.5" text-anchor="middle" font-family="'Liberation Sans', Arial, sans-serif">1500</text>
<text x="1586.4" y="2018" font-size="86.5" text-anchor="middle" font-family="'Liberation Sans', Arial, sans-serif">1000</text>
<text x="1811.5" y="2018" font-size="86.5" text-anchor="middle" font-family="'Liberation Sans', Arial, sans-serif">500</text>
<text x="687" y="2140.6" font-size="85.3" font-family="'Liberation Sans', Arial, sans-serif">wavenumber (cm<tspan font-size="54" dx="-4" dy="-41.3">-1</tspan><tspan dy="41.3">)</tspan></text>
<text transform="translate(127.5,1602.8) rotate(-90)" x="0" y="0" font-size="85.8" font-family="'Liberation Sans', Arial, sans-serif">height normalized intensity (au)</text></svg>
</body></html>
